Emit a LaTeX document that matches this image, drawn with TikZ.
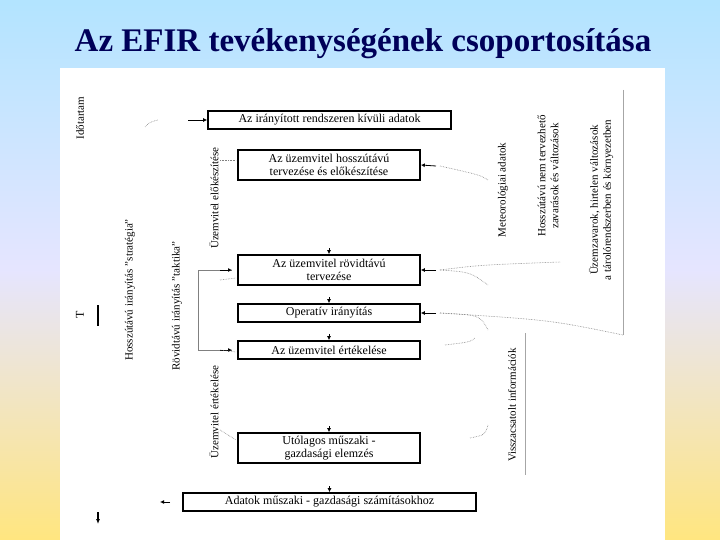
\documentclass[tikz,border=0pt]{standalone}
\usepackage{fontspec}
\setmainfont{Liberation Serif}
\newfontfamily\titlefont{Liberation Serif Bold}
\begin{document}
\begin{tikzpicture}[x=1pt,y=-1pt,
  box/.style={draw,line width=1.6pt,fill=white,align=center,font=\fontsize{12}{12.5}\selectfont,inner sep=1pt},
  lbl/.style={rotate=90,align=center,font=\fontsize{11}{13}\selectfont},
  tip/.style={-{Latex[length=4pt,width=4pt]},line width=0.8pt},
  dot/.style={gray,densely dotted,line width=0.6pt}]
\usetikzlibrary{arrows.meta}
\shade[top color=blue!35!cyan!30,bottom color=yellow!60!orange!50,middle color=white!90!blue] (0,0) rectangle (720,540);
\fill[white] (60,68) rectangle (665,540);
\useasboundingbox (0,0) rectangle (720,540);
\node[font=\titlefont\fontsize{33}{33}\selectfont,text=blue!35!black] (title) at (363,44) {Az EFIR tevékenységének csoportosítása};
% boxes
\node[box,minimum width=243,minimum height=18] (b1) at (329.5,120) {Az irányított rendszeren kívüli adatok};
\node[box,minimum width=182,minimum height=30] (b2) at (329,165) {Az üzemvitel hosszútávú\\tervezése és előkészítése};
\node[box,minimum width=182,minimum height=30] (b3) at (329,270) {Az üzemvitel rövidtávú\\tervezése};
\node[box,minimum width=182,minimum height=18] (b4) at (329,313) {Operatív irányítás};
\node[box,minimum width=182,minimum height=18] (b5) at (329,350) {Az üzemvitel értékelése};
\node[box,minimum width=182,minimum height=30] (b6) at (329,448) {Utólagos műszaki -\\gazdasági elemzés};
\node[box,minimum width=293,minimum height=18] (b7) at (329.5,502) {Adatok műszaki - gazdasági számításokhoz};
% down triangles
\foreach \n in {b3,b4,b5,b6,b7}{\draw[tip] ([yshift=6pt]\n.north) -- (\n.north);}
% left column
\node[lbl] (ido) at (80,118) {Időtartam};
\node[rotate=90,font=\fontsize{12}{12}\selectfont] (T) at (80,315) {T};
\coordinate (ta) at (98,305); \coordinate (tb) at (98,326);
\draw[line width=2pt] (ta) -- (tb);
\coordinate (da) at (98,512); \coordinate (db) at (98,524);
\draw[-{Latex[length=5pt,width=4pt]},line width=1.5pt] (da) -- (db);
\node[lbl] (hossz) at (130,290) {Hosszútávú irányítás "stratégia"};
\node[lbl] (rovid) at (177,306) {Rövidtávú irányítás "taktika"};
\node[lbl] (elok) at (214,198) {Üzemvitel előkészítése};
\node[lbl] (ertek) at (214,412) {Üzemvitel értékelése};
% bracket
\coordinate (k1) at (198,270); \coordinate (k2) at (198,350);
\coordinate (k1e) at (232,270); \coordinate (k2e) at (232,350);
\draw[gray,line width=0.5pt] (k1e) -- (k1) -- (k2) -- (k2e);
\draw[tip] (220,270) -- (k1e);
\draw[tip] (220,350) -- (k2e);
\draw[tip] (188,120) -- (b1.west);
\draw[tip] (170,502) -- (160,502) ;
\draw[dot] (145,127) .. controls (150,122) .. (158,120);
\draw[dot] (220,160) -- (236,160);
\draw[dot] (220,280) -- (236,278);
\draw[dot] (220,350) -- (236,352);
\draw[dot] (220,430) -- (236,440);
% right side
\node[lbl] (met) at (503,190) {Meteorológiai adatok};
\node[lbl] (hnt) at (548,176) {Hosszútávú nem tervezhető\\zavarások és változások};
\node[lbl] (uzz) at (601,200) {Üzemzavarok, hirtelen változások\\a tárolórendszerben és környezetben};
\node[lbl] (vissz) at (512,405) {Visszacsatolt információk};
\coordinate (g1) at (623,90); \coordinate (g2) at (623,335);
\draw[gray!70,line width=0.6pt] (g1) -- (g2);
\coordinate (g3) at (525,333); \coordinate (g4) at (525,475);
\draw[gray!70,line width=0.6pt] (g3) -- (g4);
\draw[tip] (436,166) -- (b2.east);
\draw[tip] (436,270) -- (b3.east);
\draw[tip] (436,313) -- (b4.east);
\draw[dot] (440,166) .. controls (480,175) .. (488,180);
\draw[dot] (440,270) .. controls (480,265) .. (560,262);
\draw[dot] (440,270) .. controls (470,272) .. (488,285);
\draw[dot] (440,313) .. controls (480,315) .. (488,330);
\draw[dot] (440,313) .. controls (550,320) .. (623,335);
\draw[dot] (445,345) .. controls (470,342) .. (475,338);
\draw[dot] (470,438) .. controls (485,435) .. (488,425);
\end{tikzpicture}
\end{document}
